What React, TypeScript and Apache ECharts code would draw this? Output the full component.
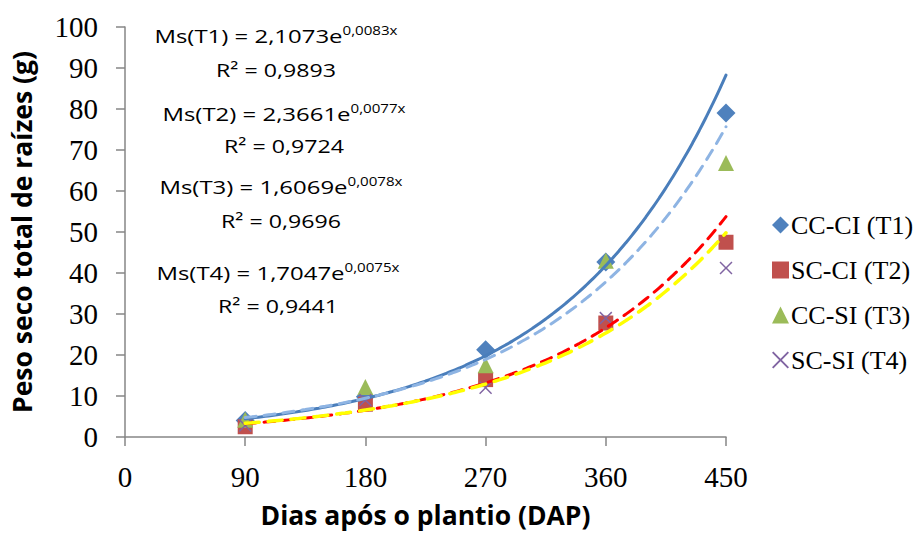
import React, { useEffect, useRef } from "react";
import * as echarts from "echarts";

const days = [90, 180, 270, 360, 450];
const seriesNames = ["CC-CI (T1)", "SC-CI (T2)", "CC-SI (T3)", "SC-SI (T4)"];
const t1Values = [4.0, 9.8, 21.3, 42.7, 79.0];
const t2Values = [2.5, 8.0, 14.0, 27.8, 47.5];
const t3Values = [4.2, 12.2, 17.5, 43.0, 66.8];
const t4Values = [2.8, 9.0, 12.0, 29.0, 41.2];
const fitLabels = ["Ms(T1)", "Ms(T2)", "Ms(T3)", "Ms(T4)"];
const fitA = [2.1073, 2.3661, 1.6069, 1.7047];
const fitB = [0.0083, 0.0077, 0.0078, 0.0075];
const fitR2 = [0.9893, 0.9724, 0.9696, 0.9441];
const fitStart = 90;
const fitEnd = 450;

const markerColors = ["#4F81BD", "#C0504D", "#9BBB59", "#8064A2"];
const markerSymbols = [
  "diamond",
  "rect",
  "triangle",
  "path://M0,0.8L0.8,0L5,4.2L9.2,0L10,0.8L5.8,5L10,9.2L9.2,10L5,5.8L0.8,10L0,9.2L4.2,5Z",
];
const markerSizes = [19, 15, 16, 13];
const fitColors = ["#4A7EBB", "#8EB4E3", "#FF0000", "#FFFF00"];
const fitDash: any[] = ["solid", [11, 8], [11, 8], [14, 9]];
const annotPos = [
  [276, 44, 77],
  [284, 122, 153],
  [281, 195, 228],
  [278, 281, 313],
];

const comma = (v: number, d: number) => v.toFixed(d).replace(".", ",");

export default function App() {
  const ref = useRef<HTMLDivElement>(null);
  useEffect(() => {
    document.body.style.margin = "0";
    const chart = echarts.init(ref.current!, null, { renderer: "svg" });
    const values = [t1Values, t2Values, t3Values, t4Values];

    const fitSeries = fitA.map((a, i) => {
      const pts: number[][] = [];
      for (let x = fitStart; x <= fitEnd; x += 5) {
        pts.push([x, a * Math.exp(fitB[i] * x)]);
      }
      return {
        type: "line",
        name: "fit" + i,
        data: pts,
        showSymbol: false,
        symbol: "none",
        smooth: true,
        z: 3,
        lineStyle: { color: fitColors[i], width: i === 3 ? 3.5 : 3, type: fitDash[i], cap: "round" },
        silent: true,
      };
    });

    const scatterSeries = values.map((vals, i) => ({
      type: "scatter",
      name: seriesNames[i],
      data: days.map((d, j) => [d, vals[j]]),
      symbol: markerSymbols[i],
      symbolSize: markerSizes[i],
      itemStyle: { color: markerColors[i], opacity: 1 },
      z: 2,
    }));

    const graphics: any[] = [];
    fitA.forEach((a, i) => {
      const [cx, b1, b2] = annotPos[i];
      graphics.push({
        type: "text",
        x: cx,
        y: b1 - 8,
        scaleX: 1.26,
        style: {
          text: `{m|${fitLabels[i]} = ${comma(a, 4)}e}{s|${comma(fitB[i], 4)}x}`,
          align: "center",
          verticalAlign: "middle",
          fill: "#000",
          rich: {
            m: { fontFamily: "Open Sans", fontSize: 19, lineHeight: 24, fill: "#000" },
            s: { fontFamily: "Open Sans", fontSize: 12, lineHeight: 14, verticalAlign: "top", fill: "#000" },
          },
        },
      });
      graphics.push({
        type: "text",
        x: cx,
        y: b2 - 8,
        scaleX: 1.22,
        style: {
          text: `R² = ${comma(fitR2[i], 4)}`,
          align: "center",
          verticalAlign: "middle",
          fill: "#000",
          font: '19px "Open Sans"',
        },
      });
    });

    chart.setOption({
      animation: false,
      backgroundColor: "#fff",
      grid: { left: 124.5, right: 193, top: 27, bottom: 97, containLabel: false },
      xAxis: {
        type: "value",
        min: 0,
        max: 450,
        interval: 90,
        name: "Dias após o plantio (DAP)",
        nameLocation: "middle",
        nameGap: 64,
        nameTextStyle: { fontFamily: "Open Sans", fontWeight: "bold", fontSize: 26.5, color: "#000" },
        axisLine: { lineStyle: { color: "#868686", width: 1.5 } },
        axisTick: { show: true, length: 9, lineStyle: { color: "#868686", width: 1.5 } },
        axisLabel: { fontFamily: "Liberation Serif", fontSize: 29, color: "#000", margin: 25 },
        splitLine: { show: false },
      },
      yAxis: {
        type: "value",
        min: 0,
        max: 100,
        interval: 10,
        name: "Peso seco total de raízes (g)",
        nameLocation: "middle",
        nameRotate: 90,
        nameGap: 90,
        nameTextStyle: { fontFamily: "Open Sans", fontWeight: "bold", fontSize: 26.5, color: "#000" },
        axisLine: { show: true, lineStyle: { color: "#868686", width: 1.5 } },
        axisTick: { show: true, length: 9, lineStyle: { color: "#868686", width: 1.5 } },
        axisLabel: { fontFamily: "Liberation Serif", fontSize: 29, color: "#000", margin: 27 },
        splitLine: { show: false },
      },
      legend: {
        data: seriesNames,
        orient: "vertical",
        left: 767,
        top: 207,
        itemWidth: 17,
        itemHeight: 17,
        itemGap: 19,
        textStyle: { fontFamily: "Liberation Serif", fontSize: 26, color: "#000", padding: [0, 0, 0, -3] },
      },
      graphic: graphics,
      series: [...scatterSeries, ...fitSeries],
    });
    return () => chart.dispose();
  }, []);
  return <div ref={ref} style={{ width: 919, height: 534 }} />;
}
